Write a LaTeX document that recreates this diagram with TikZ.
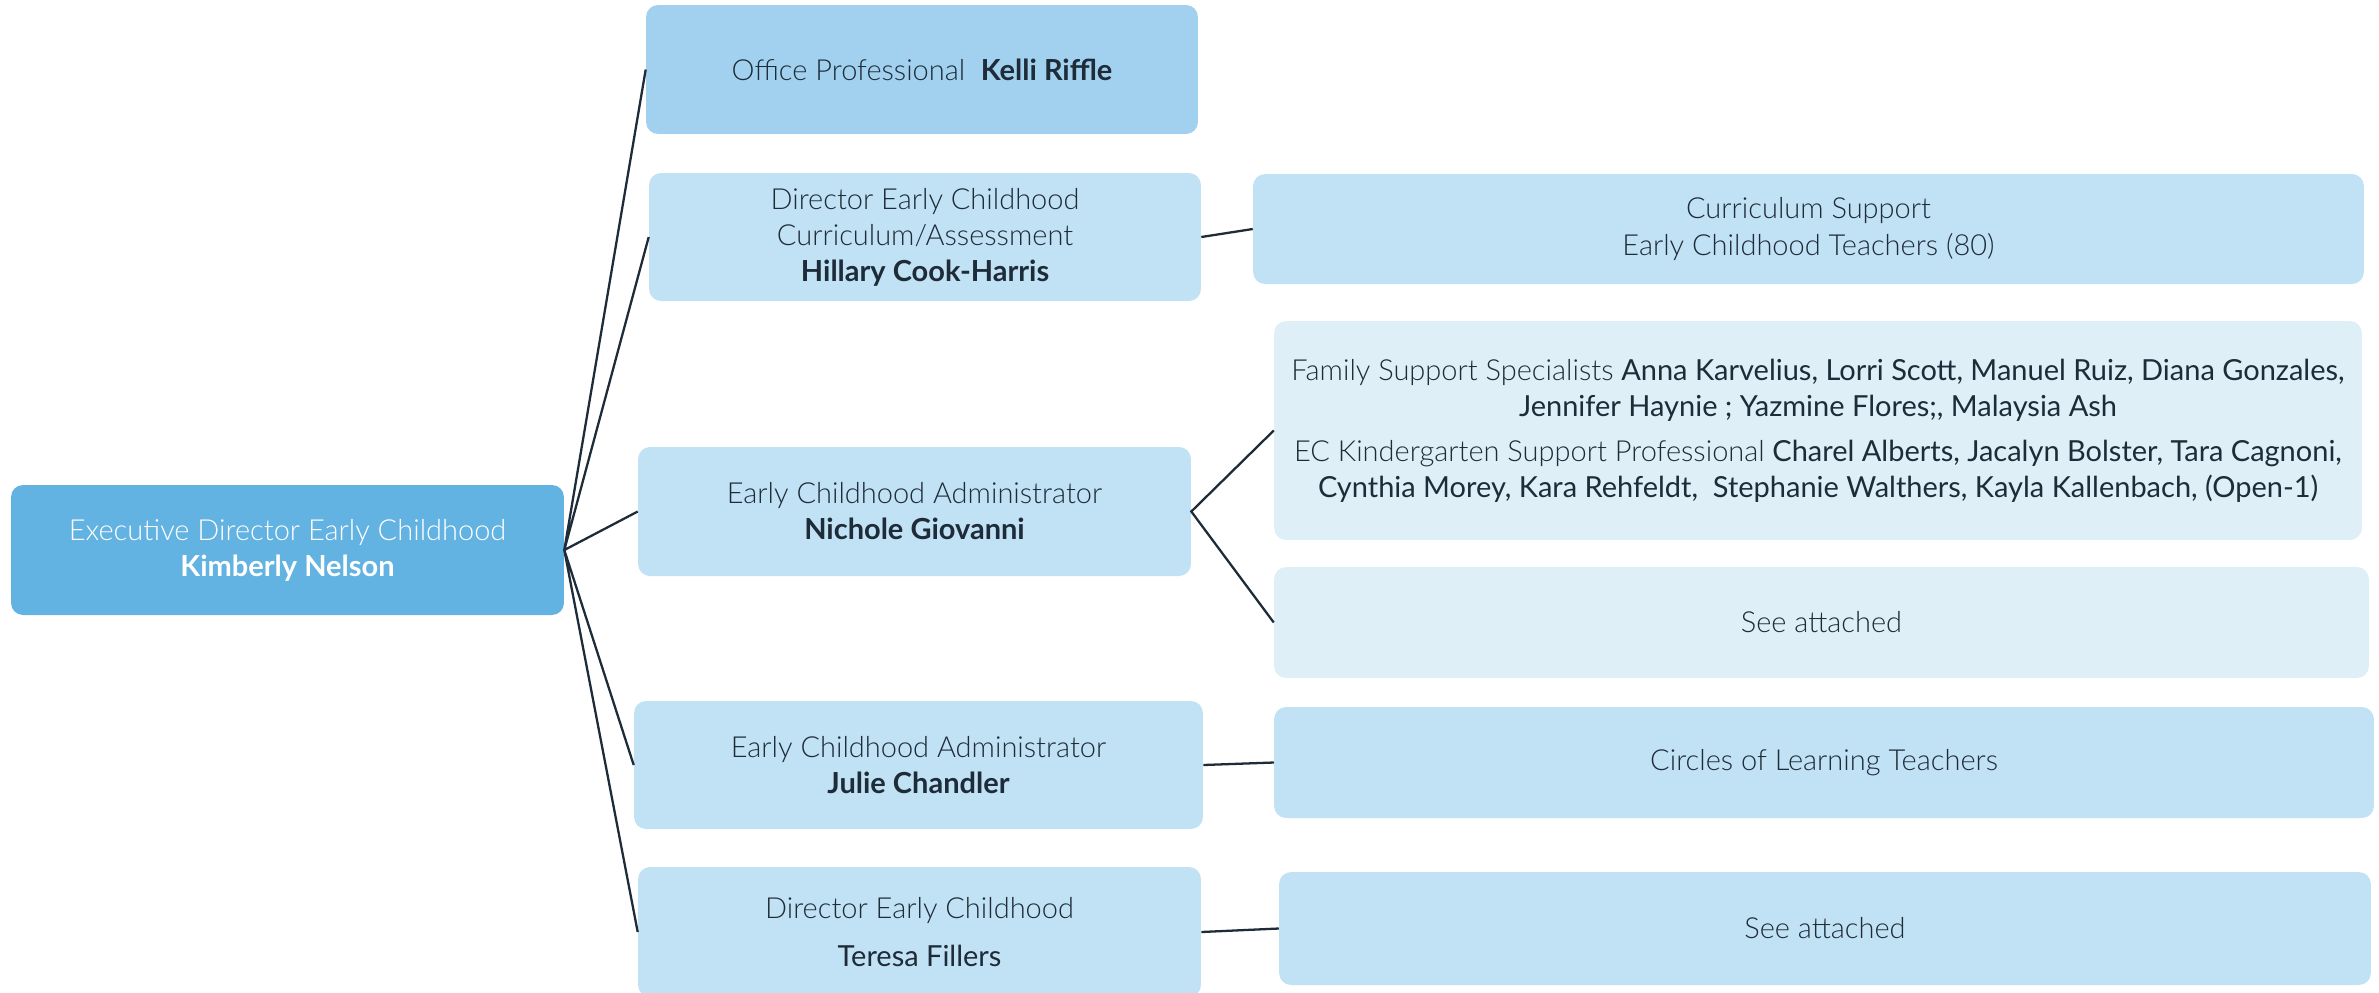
\documentclass[tikz,border=0pt]{standalone}
\usepackage{fontspec}
\setmainfont{Lato}[UprightFont={* Light},BoldFont={* Bold}]
\newfontfamily\regfont{Lato}
\definecolor{rootblue}{HTML}{62B2E2}
\definecolor{officeblue}{HTML}{A2D1EF}
\definecolor{midblue}{HTML}{C1E1F4}
\definecolor{paleblue}{HTML}{DFEFF8}
\definecolor{ink}{HTML}{1E2B38}
\begin{document}
\begin{tikzpicture}[x=0.02cm,y=-0.02cm,
    box/.style={rounded corners=0.24cm,inner sep=0pt,align=center,text=ink,
      font=\fontsize{16.5}{20.5}\selectfont},
    link/.style={draw=ink,line width=1.3pt}]
    \useasboundingbox (0,0) rectangle (2379,992);
    \node[box,fill=rootblue,text=white,minimum width=11.06cm,minimum height=2.6cm] (root)
      at (287.5,550) {Executive Director Early Childhood\\\textbf{Kimberly Nelson}};
    \node[box,fill=officeblue,minimum width=11.04cm,minimum height=2.58cm] (office)
      at (922,69.5) {Office Professional~~\textbf{Kelli Riffle}};
    \node[box,fill=midblue,minimum width=11.04cm,minimum height=2.56cm] (curric)
      at (925,237) {Director Early Childhood\\Curriculum/Assessment\\\textbf{Hillary Cook-Harris}};
    \node[box,fill=midblue,minimum width=11.06cm,minimum height=2.58cm] (nichole)
      at (914.5,511.5) {Early Childhood Administrator\\\textbf{Nichole Giovanni}};
    \node[box,fill=midblue,minimum width=11.38cm,minimum height=2.56cm] (julie)
      at (918.5,765) {Early Childhood Administrator\\\textbf{Julie Chandler}};
    \node[box,fill=midblue,minimum width=11.26cm,minimum height=2.6cm] (teresa)
      at (919.5,932) {Director Early Childhood\\[7pt]{\regfont Teresa Fillers}};
    \node[box,fill=midblue,minimum width=22.22cm,minimum height=2.2cm] (cursupport)
      at (1808.5,229) {Curriculum Support\\Early Childhood Teachers (80)};
    \node[box,fill=paleblue,minimum width=21.76cm,minimum height=4.38cm] (family)
      at (1818,430.5) {Family Support Specialists {\regfont Anna Karvelius, Lorri Scott, Manuel Ruiz, Diana Gonzales,}\\
      {\regfont Jennifer Haynie ; Yazmine Flores;, Malaysia Ash}\\[5pt]
      EC Kindergarten Support Professional {\regfont Charel Alberts, Jacalyn Bolster, Tara Cagnoni,}\\
      {\regfont Cynthia Morey, Kara Rehfeldt,~~Stephanie Walthers, Kayla Kallenbach, (Open-1)}};
    \node[box,fill=paleblue,minimum width=21.9cm,minimum height=2.22cm] (attachedA)
      at (1821.5,622.5) {See attached};
    \node[box,fill=midblue,minimum width=22cm,minimum height=2.22cm] (circles)
      at (1824,762.5) {Circles of Learning Teachers};
    \node[box,fill=midblue,minimum width=21.84cm,minimum height=2.26cm] (attachedB)
      at (1825,928.5) {See attached};
    \draw[link] (office.west) -- (root.east) -- (curric.west)
      (root.east) -- (nichole.west) (root.east) -- (julie.west) (root.east) -- (teresa.west);
    \draw[link] (curric.east) -- (cursupport.west);
    \draw[link] (family.west) -- (nichole.east) -- (attachedA.west);
    \draw[link] (julie.east) -- (circles.west);
    \draw[link] (teresa.east) -- (attachedB.west);
\end{tikzpicture}
\end{document}
